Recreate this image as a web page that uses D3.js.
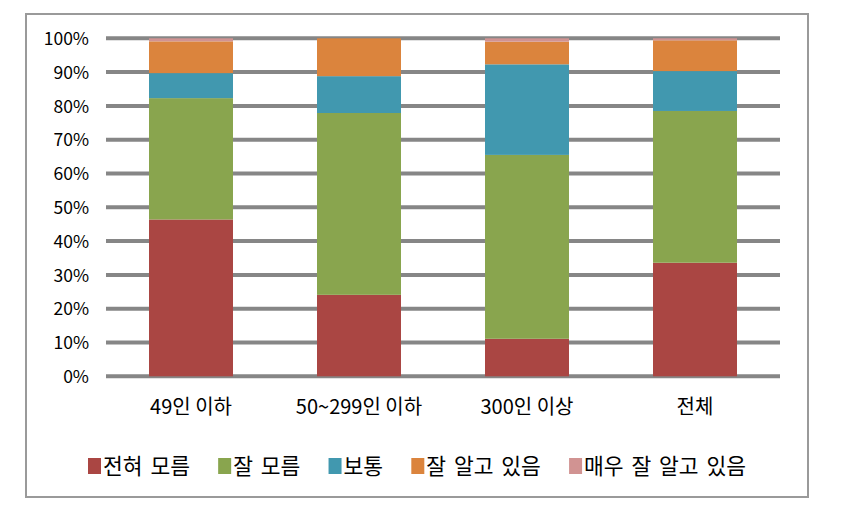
<!DOCTYPE html>
<html>
<head>
<meta charset="utf-8">
<script src="https://cdn.jsdelivr.net/npm/d3@7"></script>
<style>
  html, body { margin: 0; padding: 0; background: #fff; }
  svg text { font-family: "Noto Sans CJK KR", "Noto Sans", sans-serif; fill: #000; }
</style>
</head>
<body>
<svg id="chart" width="845" height="508"></svg>
<script>
const categories = ["49인 이하", "50~299인 이하", "300인 이상", "전체"];
const seriesNames = ["전혀 모름", "잘 모름", "보통", "잘 알고 있음", "매우 잘 알고 있음"];
const seriesColors = ["#AA4643", "#89A54E", "#4198AF", "#DB843D", "#D19392"];
const s_none    = [46.4, 24.1, 11.1, 33.6];
const s_little  = [35.9, 53.8, 54.4, 44.9];
const s_normal  = [7.4, 10.9, 26.8, 11.8];
const s_know    = [9.4, 11.2, 6.7, 9.1];
const s_well    = [0.9, 0.0, 1.0, 0.6];
const yTicks = [0, 10, 20, 30, 40, 50, 60, 70, 80, 90, 100];

const seriesValues = [s_none, s_little, s_normal, s_know, s_well];
const rows = categories.map((c, i) => {
  const r = { cat: c };
  seriesNames.forEach((s, k) => { r[s] = seriesValues[k][i]; });
  return r;
});

const svg = d3.select("#chart");

// outer frame
svg.append("rect")
  .attr("x", 26).attr("y", 14).attr("width", 782).attr("height", 483)
  .attr("fill", "none").attr("stroke", "#9a9a9a").attr("stroke-width", 2);

const x = d3.scaleBand().domain(categories).range([107, 779]).paddingInner(0.5).paddingOuter(0.25);
const y = d3.scaleLinear().domain([0, 100]).range([376.3, 38.3]);

// gridlines
svg.append("g").selectAll("line").data(yTicks).join("line")
  .attr("x1", 106).attr("x2", 780)
  .attr("y1", d => y(d)).attr("y2", d => y(d))
  .attr("stroke", "#868686").attr("stroke-width", 4);

// y axis labels
const yAxis = d3.axisLeft(y).tickValues(yTicks).tickFormat(d => d + "%").tickSize(0).tickPadding(0);
const yg = svg.append("g").attr("transform", "translate(89,0)").call(yAxis);
yg.select(".domain").remove();
yg.selectAll("text").attr("font-size", 17.5).attr("font-family", "'Noto Sans CJK KR', sans-serif").attr("fill", "#000").attr("dy", "0.35em");

// stacked bars
const stack = d3.stack().keys(seriesNames);
const stacked = stack(rows);
svg.append("g").selectAll("g").data(stacked).join("g")
  .attr("fill", (d, i) => seriesColors[i])
  .selectAll("rect").data(d => d).join("rect")
  .attr("x", d => x(d.data.cat))
  .attr("width", x.bandwidth())
  .attr("y", d => y(d[1]))
  .attr("height", d => Math.max(0, y(d[0]) - y(d[1])));

// x axis labels
const xAxis = d3.axisBottom(x).tickSize(0).tickPadding(0);
const xg = svg.append("g").attr("transform", "translate(0,400)").call(xAxis);
xg.select(".domain").remove();
xg.selectAll("text").attr("font-size", 20).attr("font-family", "'Noto Sans CJK KR', sans-serif").attr("fill", "#000").attr("dy", "0.71em");

// legend
const lg = svg.append("g");
const items = lg.selectAll("g").data(seriesNames).join("g");
items.append("rect").attr("width", 13).attr("height", 16).attr("y", -8)
  .attr("fill", (d, i) => seriesColors[i]);
items.append("text").attr("x", 15).attr("dy", "0.35em").attr("font-size", 21.5)
  .attr("word-spacing", 3).text(d => d);
const widths = [];
items.each(function() {
  widths.push(15 + d3.select(this).select("text").node().getComputedTextLength());
});
const legendSpan = 658;
const gap = (legendSpan - d3.sum(widths)) / (widths.length - 1);
let cx = 0;
items.each(function(d, i) {
  d3.select(this).attr("transform", `translate(${cx},0)`);
  cx += widths[i] + gap;
});
lg.attr("transform", `translate(${417 - legendSpan / 2},466)`);
</script>
</body>
</html>
